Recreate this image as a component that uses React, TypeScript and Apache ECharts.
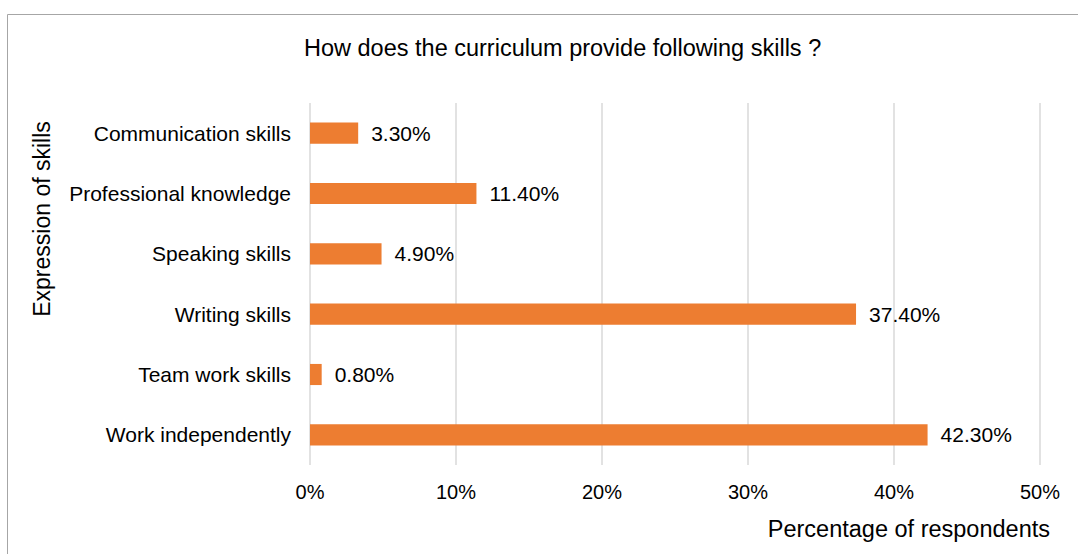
import React, { useEffect, useRef } from "react";
import * as echarts from "echarts";

const categories = [
  "Communication skills",
  "Professional knowledge",
  "Speaking skills",
  "Writing skills",
  "Team work skills",
  "Work independently",
];
const values = [3.3, 11.4, 4.9, 37.4, 0.8, 42.3];
const xTicks = [0, 10, 20, 30, 40, 50];

const FONT = "'Liberation Sans', Arial, sans-serif";

export default function App() {
  const ref = useRef<HTMLDivElement>(null);
  useEffect(() => {
    if (!ref.current) return;
    const chart = echarts.init(ref.current, null, { renderer: "svg" });
    chart.setOption({
      animation: false,
      backgroundColor: "#ffffff",
      textStyle: { fontFamily: FONT, color: "#000" },
      title: {
        text: "How does the curriculum provide following skills ?",
        left: 299,
        top: 31,
        textStyle: { fontFamily: FONT, fontSize: 23.5, fontWeight: "normal", color: "#000" },
      },
      graphic: [
        {
          type: "rect",
          shape: { x: 7.5, y: 14.5, width: 1100, height: 600 },
          style: { fill: "none", stroke: "#a6a6a6", lineWidth: 1 },
          silent: true,
        },
        {
          type: "text",
          x: 42,
          y: 219,
          rotation: Math.PI / 2,
          style: {
            text: "Expression of skills",
            fontFamily: FONT,
            fontSize: 23,
            fill: "#000",
            align: "center",
            verticalAlign: "middle",
          },
        },
        {
          type: "text",
          x: 1050,
          y: 529,
          style: {
            text: "Percentage of respondents",
            fontFamily: FONT,
            fontSize: 23.5,
            fill: "#000",
            align: "right",
            verticalAlign: "middle",
          },
        },
      ],
      grid: { left: 310, right: 38, top: 103, bottom: 89, containLabel: false },
      xAxis: {
        type: "value",
        min: xTicks[0],
        max: xTicks[xTicks.length - 1],
        interval: 10,
        axisLine: { show: false },
        axisTick: { show: false },
        splitLine: { show: true, lineStyle: { color: "#d9d9d9", width: 1.5 } },
        axisLabel: {
          fontFamily: FONT,
          fontSize: 20,
          color: "#000",
          margin: 17,
          formatter: (v: number) => v + "%",
        },
      },
      yAxis: {
        type: "category",
        data: categories,
        inverse: true,
        axisLine: { show: false },
        axisTick: { show: false },
        axisLabel: { fontFamily: FONT, fontSize: 21, color: "#000", margin: 19 },
      },
      series: [
        {
          type: "bar",
          data: values,
          barCategoryGap: "65%",
          itemStyle: { color: "#ED7D31" },
          label: {
            show: true,
            position: "right",
            distance: 13,
            fontFamily: FONT,
            fontSize: 21,
            color: "#000",
            formatter: (p: any) => p.value.toFixed(2) + "%",
          },
        },
      ],
    });
    return () => chart.dispose();
  }, []);
  return (
    <div
      ref={ref}
      style={{ position: "fixed", left: 0, top: 0, width: 1078, height: 554 }}
    />
  );
}
